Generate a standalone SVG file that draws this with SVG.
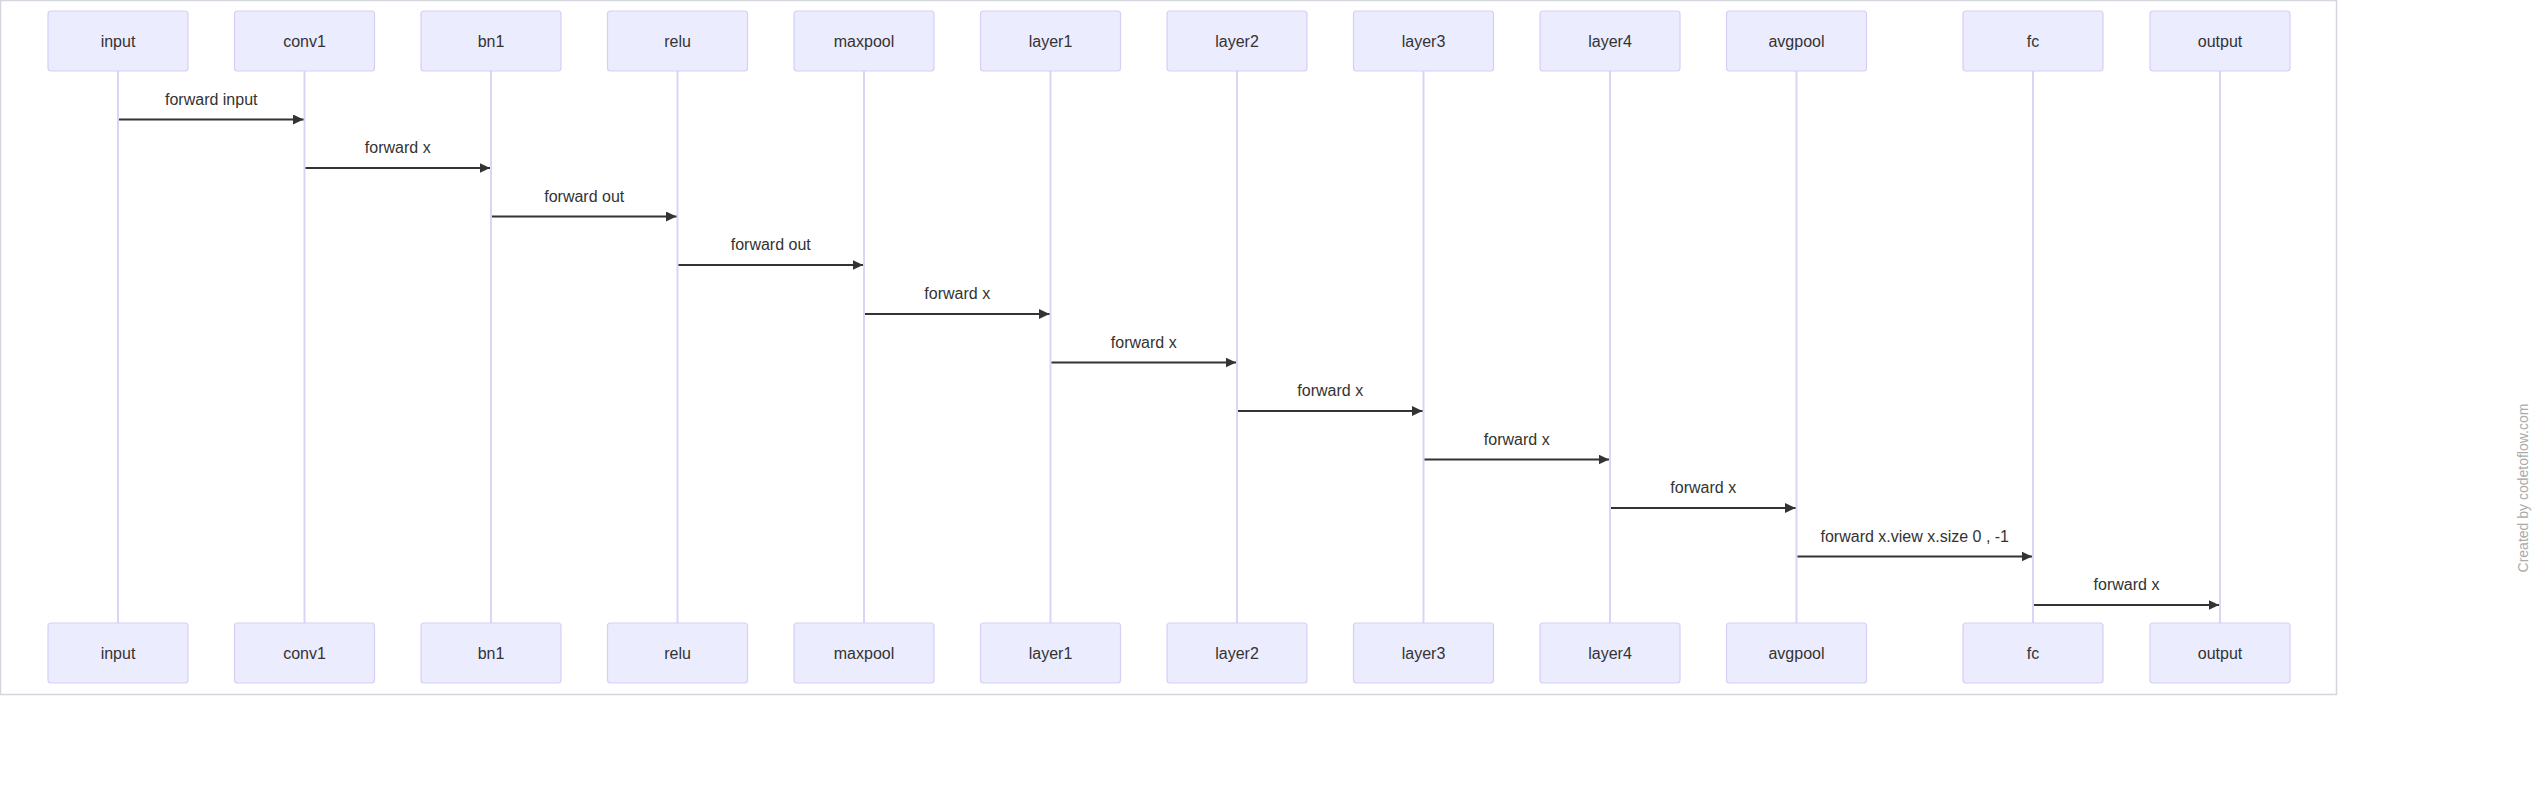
<svg xmlns="http://www.w3.org/2000/svg" width="2538" height="806" viewBox="0 0 2538 806">
<defs>
<marker id="ah" markerWidth="11" markerHeight="10" refX="10.5" refY="5" orient="auto" markerUnits="userSpaceOnUse"><path d="M0,0 L10.5,5 L0,10 z" fill="#333"/></marker>
<style>
.box{fill:#ECECFF;stroke:#D8CEF5;stroke-width:1.2}
.life{stroke:#DCD3F5;stroke-width:2}
.t{font-family:"Liberation Sans",Arial,sans-serif;font-size:16px;fill:#333;text-anchor:middle}
.msg{stroke:#333;stroke-width:2;fill:none;marker-end:url(#ah)}
</style>
</defs>
<rect x="0.5" y="0.5" width="2336" height="694" fill="#fff" stroke="#D3D6DD" stroke-width="1.5"/>
<g id="lifelines">
<line class="life" x1="118" y1="71" x2="118" y2="623"/>
<line class="life" x1="304.5" y1="71" x2="304.5" y2="623"/>
<line class="life" x1="491" y1="71" x2="491" y2="623"/>
<line class="life" x1="677.5" y1="71" x2="677.5" y2="623"/>
<line class="life" x1="864" y1="71" x2="864" y2="623"/>
<line class="life" x1="1050.5" y1="71" x2="1050.5" y2="623"/>
<line class="life" x1="1237" y1="71" x2="1237" y2="623"/>
<line class="life" x1="1423.5" y1="71" x2="1423.5" y2="623"/>
<line class="life" x1="1610" y1="71" x2="1610" y2="623"/>
<line class="life" x1="1796.5" y1="71" x2="1796.5" y2="623"/>
<line class="life" x1="2033" y1="71" x2="2033" y2="623"/>
<line class="life" x1="2220" y1="71" x2="2220" y2="623"/>
</g>
<g id="node-input"><rect class="box" x="48" y="11" width="140" height="60" rx="3"/><text class="t" x="118" y="46.5">input</text><rect class="box" x="48" y="623" width="140" height="60" rx="3"/><text class="t" x="118" y="658.5">input</text></g>
<g id="node-conv1"><rect class="box" x="234.5" y="11" width="140" height="60" rx="3"/><text class="t" x="304.5" y="46.5">conv1</text><rect class="box" x="234.5" y="623" width="140" height="60" rx="3"/><text class="t" x="304.5" y="658.5">conv1</text></g>
<g id="node-bn1"><rect class="box" x="421" y="11" width="140" height="60" rx="3"/><text class="t" x="491" y="46.5">bn1</text><rect class="box" x="421" y="623" width="140" height="60" rx="3"/><text class="t" x="491" y="658.5">bn1</text></g>
<g id="node-relu"><rect class="box" x="607.5" y="11" width="140" height="60" rx="3"/><text class="t" x="677.5" y="46.5">relu</text><rect class="box" x="607.5" y="623" width="140" height="60" rx="3"/><text class="t" x="677.5" y="658.5">relu</text></g>
<g id="node-maxpool"><rect class="box" x="794" y="11" width="140" height="60" rx="3"/><text class="t" x="864" y="46.5">maxpool</text><rect class="box" x="794" y="623" width="140" height="60" rx="3"/><text class="t" x="864" y="658.5">maxpool</text></g>
<g id="node-layer1"><rect class="box" x="980.5" y="11" width="140" height="60" rx="3"/><text class="t" x="1050.5" y="46.5">layer1</text><rect class="box" x="980.5" y="623" width="140" height="60" rx="3"/><text class="t" x="1050.5" y="658.5">layer1</text></g>
<g id="node-layer2"><rect class="box" x="1167" y="11" width="140" height="60" rx="3"/><text class="t" x="1237" y="46.5">layer2</text><rect class="box" x="1167" y="623" width="140" height="60" rx="3"/><text class="t" x="1237" y="658.5">layer2</text></g>
<g id="node-layer3"><rect class="box" x="1353.5" y="11" width="140" height="60" rx="3"/><text class="t" x="1423.5" y="46.5">layer3</text><rect class="box" x="1353.5" y="623" width="140" height="60" rx="3"/><text class="t" x="1423.5" y="658.5">layer3</text></g>
<g id="node-layer4"><rect class="box" x="1540" y="11" width="140" height="60" rx="3"/><text class="t" x="1610" y="46.5">layer4</text><rect class="box" x="1540" y="623" width="140" height="60" rx="3"/><text class="t" x="1610" y="658.5">layer4</text></g>
<g id="node-avgpool"><rect class="box" x="1726.5" y="11" width="140" height="60" rx="3"/><text class="t" x="1796.5" y="46.5">avgpool</text><rect class="box" x="1726.5" y="623" width="140" height="60" rx="3"/><text class="t" x="1796.5" y="658.5">avgpool</text></g>
<g id="node-fc"><rect class="box" x="1963" y="11" width="140" height="60" rx="3"/><text class="t" x="2033" y="46.5">fc</text><rect class="box" x="1963" y="623" width="140" height="60" rx="3"/><text class="t" x="2033" y="658.5">fc</text></g>
<g id="node-output"><rect class="box" x="2150" y="11" width="140" height="60" rx="3"/><text class="t" x="2220" y="46.5">output</text><rect class="box" x="2150" y="623" width="140" height="60" rx="3"/><text class="t" x="2220" y="658.5">output</text></g>
<g id="connectors">
<line class="msg" x1="119" y1="119.5" x2="303.5" y2="119.5"/><text class="t" x="211.25" y="104.5">forward input</text>
<line class="msg" x1="305.5" y1="168" x2="490" y2="168"/><text class="t" x="397.75" y="153">forward x</text>
<line class="msg" x1="492" y1="216.5" x2="676.5" y2="216.5"/><text class="t" x="584.25" y="201.5">forward out</text>
<line class="msg" x1="678.5" y1="265" x2="863" y2="265"/><text class="t" x="770.75" y="250">forward out</text>
<line class="msg" x1="865" y1="314" x2="1049.5" y2="314"/><text class="t" x="957.25" y="299">forward x</text>
<line class="msg" x1="1051.5" y1="362.5" x2="1236" y2="362.5"/><text class="t" x="1143.75" y="347.5">forward x</text>
<line class="msg" x1="1238" y1="411" x2="1422.5" y2="411"/><text class="t" x="1330.25" y="396">forward x</text>
<line class="msg" x1="1424.5" y1="459.5" x2="1609" y2="459.5"/><text class="t" x="1516.75" y="444.5">forward x</text>
<line class="msg" x1="1611" y1="508" x2="1795.5" y2="508"/><text class="t" x="1703.25" y="493">forward x</text>
<line class="msg" x1="1797.5" y1="556.5" x2="2032" y2="556.5"/><text class="t" x="1914.75" y="541.5">forward x.view x.size 0 , -1</text>
<line class="msg" x1="2034" y1="605" x2="2219" y2="605"/><text class="t" x="2126.5" y="590">forward x</text>
</g>
<text x="2528" y="488" transform="rotate(-90 2528 488)" font-family="'Liberation Sans',Arial,sans-serif" font-size="14" fill="#AAAAAA" text-anchor="middle">Created by codetoflow.com</text>
</svg>
